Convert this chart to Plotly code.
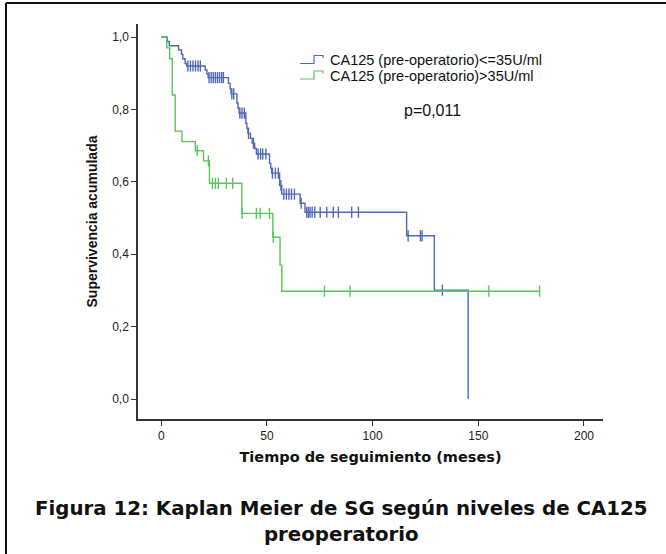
import plotly.graph_objects as go

# ---------------- data ----------------
# Kaplan-Meier step curves: event times (months) and survival after each event
low_times = [0, 2.8, 3.8, 8.2, 9.6, 10.2, 11.3, 12.0, 20.8, 21.6, 22.2, 31.8, 32.6, 33.0,
             35.8, 36.3, 36.8, 40.0, 40.5, 41.0, 42.2, 43.0, 44.2, 45.0, 51.2, 51.8, 52.2,
             56.0, 57.0, 65.7, 68.0, 116.1, 129.2, 145.2]
low_surv = [1.0, 0.988, 0.976, 0.964, 0.952, 0.94, 0.927, 0.92, 0.909, 0.898, 0.888, 0.872,
            0.857, 0.843, 0.818, 0.804, 0.79, 0.762, 0.748, 0.734, 0.72, 0.707, 0.692, 0.677,
            0.651, 0.638, 0.624, 0.59, 0.566, 0.541, 0.516, 0.451, 0.301, 0.0]
low_censored = [12.6, 13.8, 15.0, 16.2, 17.4, 18.5, 22.6, 23.6, 24.6, 25.6, 26.6, 27.6, 28.6,
                29.4, 33.4, 34.3, 37.2, 38.2, 39.3, 41.3, 43.6, 45.8, 47.0, 48.0, 49.5, 52.6,
                54.0, 55.4, 56.6, 58.0, 59.2, 60.4, 61.6, 63.0, 66.2, 68.8, 69.6, 70.4, 71.4,
                72.6, 75.2, 78.3, 81.4, 83.8, 90.1, 93.3, 116.8, 122.6, 123.4, 133.0]

high_times = [0, 2.6, 4.0, 5.2, 6.6, 9.8, 16.1, 20.0, 22.8, 38.1, 52.8, 56.2, 57.0]
high_surv = [1.0, 0.97, 0.94, 0.84, 0.74, 0.711, 0.686, 0.658, 0.596, 0.513, 0.447, 0.37, 0.298]
high_censored = [17.0, 22.3, 24.2, 25.6, 27.0, 30.8, 33.8, 38.3, 45.0, 46.8, 51.2, 53.0,
                 77.2, 89.3, 155.0, 179.0]

series_names = ["CA125 (pre-operatorio)<=35U/ml", "CA125 (pre-operatorio)>35U/ml"]
x_ticks = [0, 50, 100, 150, 200]
y_ticks = [0.0, 0.2, 0.4, 0.6, 0.8, 1.0]
p_text = "p=0,011"
x_title = "Tiempo de seguimiento (meses)"
y_title = "Supervivencia acumulada"
caption = "Figura 12: Kaplan Meier de SG según niveles de CA125<br>preoperatorio"

BLUE = "#5068B8"
GREEN = "#58C658"

# ---------------- layout geometry ----------------
W, H = 666, 554
L, R, T, B = 138, 63, 24, 135
PW, PH = W - L - R, H - T - B


def px(xp):
    return (xp - L) / PW


def py(yp):
    return (H - B - yp) / PH


def surv_at(times, surv, t):
    s = surv[0]
    for ti, si in zip(times, surv):
        if ti <= t:
            s = si
    return s


fig = go.Figure()

curves = [
    (low_times, low_surv, low_censored, BLUE, series_names[0], False),
    (high_times, high_surv, high_censored, GREEN, series_names[1], True),
]
for times, surv, cens, col, name, extend in curves:
    xs = list(times)
    ys = list(surv)
    if extend:
        xs.append(max(cens))
        ys.append(surv[-1])
    fig.add_trace(go.Scatter(x=xs, y=ys, mode="lines", line=dict(color=col, width=1.4, shape="hv"),
                             name=name, showlegend=False, hoverinfo="skip"))
    fig.add_trace(go.Scatter(x=cens, y=[surv_at(times, surv, c) for c in cens], mode="markers",
                             marker=dict(symbol="line-ns-open", size=8, color=col,
                                         line=dict(color=col, width=1.4)),
                             name=name + " censurado", showlegend=False, hoverinfo="skip"))

shapes = []
# outer frame (left and top edges visible)
shapes.append(dict(type="line", xref="paper", yref="paper", x0=px(6), x1=px(6), y0=py(3), y1=py(560),
                   line=dict(color="#111", width=2)))
shapes.append(dict(type="line", xref="paper", yref="paper", x0=px(6), x1=px(670), y0=py(3), y1=py(3),
                   line=dict(color="#111", width=2)))

# legend step glyphs
annotations = []
for i, (col, name) in enumerate([(BLUE, series_names[0]), (GREEN, series_names[1])]):
    yc = 60 + 15.5 * i
    pts = [(300, yc + 3.5), (314, yc + 3.5), (314, yc - 4.5), (323, yc - 4.5), (323, yc - 2)]
    path = "M " + " L ".join(f"{px(a):.5f},{py(b):.5f}" for a, b in pts)
    shapes.append(dict(type="path", xref="paper", yref="paper", path=path,
                       line=dict(color=col, width=1.2)))
    annotations.append(dict(xref="paper", yref="paper", x=px(328), y=py(yc), text=name,
                            showarrow=False, xanchor="left", yanchor="middle",
                            font=dict(family="Liberation Sans, Arial", size=14.5, color="#111")))

annotations.append(dict(xref="paper", yref="paper", x=px(432), y=py(110), text=p_text,
                        showarrow=False, xanchor="center", yanchor="middle",
                        font=dict(family="Liberation Sans, Arial", size=16, color="#111")))
annotations.append(dict(xref="paper", yref="paper", x=px(341), y=py(521), text="<b>" + caption + "</b>",
                        showarrow=False, xanchor="center", yanchor="middle", align="center",
                        font=dict(family="DejaVu Sans", size=19.8, color="#111")))

fig.update_layout(
    width=W, height=H,
    margin=dict(l=L, r=R, t=T, b=B, autoexpand=False),
    paper_bgcolor="white", plot_bgcolor="white",
    separators=",.",
    showlegend=False,
    shapes=shapes,
    annotations=annotations,
)
fig.update_xaxes(range=[-11, 209], tickvals=x_ticks, ticks="outside", ticklen=5, tickwidth=1,
                 tickcolor="#333", showline=True, linecolor="#333", linewidth=1.5,
                 showgrid=False, zeroline=False,
                 tickfont=dict(family="Liberation Sans, Arial", size=12, color="#222"),
                 title=dict(text="<b>" + x_title + "</b>", standoff=10,
                            font=dict(family="DejaVu Sans", size=14.5, color="#111")))
fig.update_yaxes(range=[-0.055, 1.036], tickvals=y_ticks, tickformat=".1f", ticks="outside",
                 ticklen=5, tickwidth=1, tickcolor="#333", showline=True, linecolor="#333",
                 linewidth=1.5, showgrid=False, zeroline=False,
                 tickfont=dict(family="Liberation Sans, Arial", size=12, color="#222"),
                 title=dict(text="<b>" + y_title + "</b>", standoff=11,
                            font=dict(family="Liberation Sans, Arial", size=14, color="#111")))

fig.write_html("out.html", config={"displayModeBar": False},
               post_script="document.body.style.margin='0';")
